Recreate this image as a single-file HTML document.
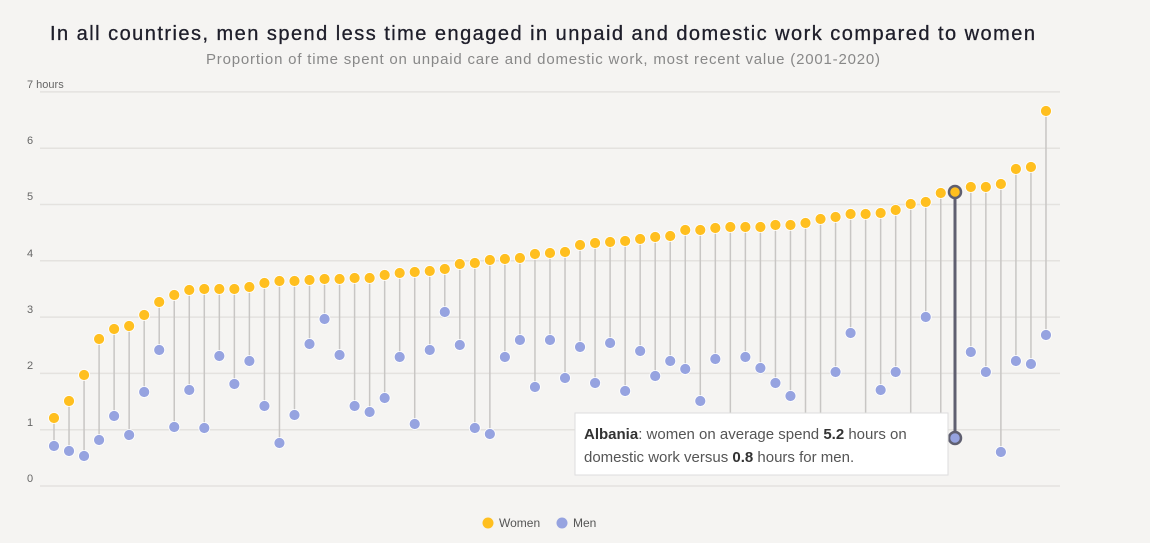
<!DOCTYPE html>
<html><head><meta charset="utf-8"><style>
body{margin:0;background:#f5f4f2;width:1150px;height:543px;overflow:hidden;font-family:"Liberation Sans",sans-serif}
svg{position:absolute;left:0;top:0}
</style></head><body>
<svg id="c" width="1150" height="543" xmlns="http://www.w3.org/2000/svg">
<rect width="1150" height="543" fill="#f5f4f2"/>
<text x="50" y="40" font-size="20" fill="#1e1e2a" textLength="985" lengthAdjust="spacing" stroke="#1e1e2a" stroke-width="0.3">In all countries, men spend less time engaged in unpaid and domestic work compared to women</text>
<text x="206" y="64" font-size="15" fill="#888" textLength="674" lengthAdjust="spacing">Proportion of time spent on unpaid care and domestic work, most recent value (2001-2020)</text>
<g id="grid" stroke="#e4e2df" stroke-width="1.5"></g>
<g font-size="11" fill="#666">
<text x="27" y="88">7 hours</text><text x="27" y="144">6</text><text x="27" y="200">5</text><text x="27" y="257">4</text><text x="27" y="313">3</text><text x="27" y="369">2</text><text x="27" y="426">1</text><text x="27" y="482">0</text>
</g>
<g id="lines" stroke="#c8c6c4" stroke-width="1.5"></g>
<g id="dots"></g>
<line x1="955" y1="192" x2="955" y2="438" stroke="#5f5f70" stroke-width="3"/>
<circle cx="955" cy="192" r="6" fill="#ffbf1f" stroke="#5f5f70" stroke-width="2.5"/>
<circle cx="955" cy="438" r="6" fill="#96a3e0" stroke="#5f5f70" stroke-width="2.5"/>
<rect x="575" y="413" width="373" height="62" fill="#fff" stroke="#ddd"/>
<text x="584" y="439" font-size="15" fill="#555"><tspan font-weight="bold" fill="#333">Albania</tspan>: women on average spend <tspan font-weight="bold" fill="#333">5.2</tspan> hours on</text>
<text x="584" y="462" font-size="15" fill="#555">domestic work versus <tspan font-weight="bold" fill="#333">0.8</tspan> hours for men.</text>
<circle cx="488" cy="523" r="5.5" fill="#ffbf1f"/><text x="499" y="527" font-size="12" fill="#555">Women</text>
<circle cx="562" cy="523" r="5.5" fill="#96a3e0"/><text x="573" y="527" font-size="12" fill="#555">Men</text>
</svg>
<script>
var W=[418,401,375,339,329,326,315,302,295,290,289,289,289,287,283,281,281,280,279,279,278,278,275,273,
272,271,269,264,263,260,259,258,254,253,252,245,243,242,241,239,237,236,230,230,228,227,227,
227,225,225,223,219,217,214,214,213,210,204,202,193,192,187,187,184,169,167,111];
var M=[446,451,456,440,416,435,392,350,427,390,428,356,384,361,406,443,415,344,319,355,406,412,398,357,
424,350,312,345,428,434,357,340,387,340,378,347,383,343,391,351,376,361,369,401,359,445,357,
368,383,396,445,445,372,333,445,390,372,445,317,445,438,352,372,452,361,364,335];
var g=document.getElementById('grid'),l=document.getElementById('lines'),d=document.getElementById('dots'),ns='http://www.w3.org/2000/svg';
for(var k=0;k<8;k++){var y=486-k*56.3;var e=document.createElementNS(ns,'line');e.setAttribute('x1',40);e.setAttribute('x2',1060);e.setAttribute('y1',y);e.setAttribute('y2',y);g.appendChild(e);}
for(var i=0;i<W.length;i++){var x=54+i*15.03;if(i==60)continue;
var m=M[i];var ln=document.createElementNS(ns,'line');ln.setAttribute('x1',x);ln.setAttribute('x2',x);ln.setAttribute('y1',W[i]);ln.setAttribute('y2',m);l.appendChild(ln);
var c=document.createElementNS(ns,'circle');c.setAttribute('cx',x);c.setAttribute('cy',m);c.setAttribute('r',5.5);c.setAttribute('fill','#96a3e0');c.setAttribute('stroke','#fff');c.setAttribute('stroke-width','0.8');d.appendChild(c);
c=document.createElementNS(ns,'circle');c.setAttribute('cx',x);c.setAttribute('cy',W[i]);c.setAttribute('r',5.5);c.setAttribute('fill','#ffbf1f');c.setAttribute('stroke','#fff');c.setAttribute('stroke-width','0.8');d.appendChild(c);}
</script>
</body></html>
